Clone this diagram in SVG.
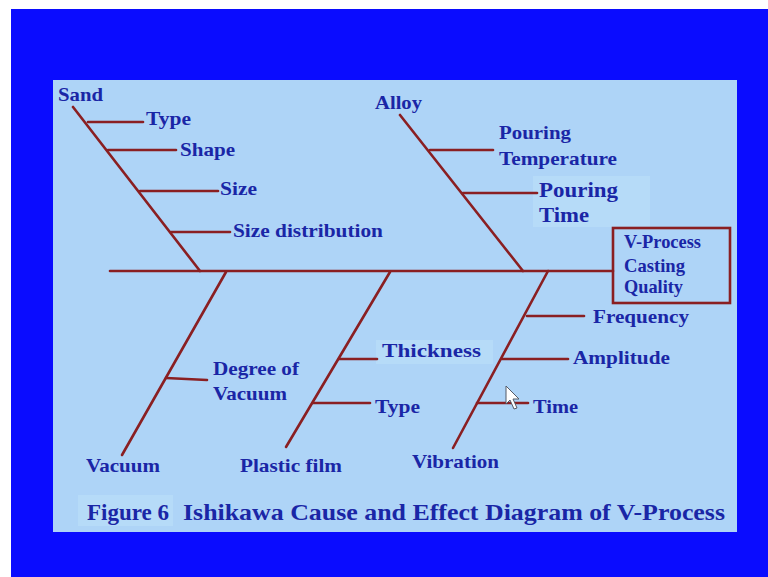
<svg xmlns="http://www.w3.org/2000/svg" width="768" height="577" viewBox="0 0 768 577">
<style>
.t{font-family:"Liberation Serif","Times New Roman",serif;font-weight:bold;font-size:19px;fill:#1a26a6}
.big{font-size:20px}
.cap{font-size:24px}
.bone{stroke:#8a1f22;stroke-width:2.6;fill:none;stroke-linecap:round}
</style>
<rect x="0" y="0" width="768" height="577" fill="#ffffff"/>
<rect x="11" y="9" width="757" height="568" fill="#0a0cff"/>
<rect x="53" y="80" width="684" height="452" fill="#aed4f7"/>
<rect x="533" y="176" width="117" height="51" fill="#b6dbf8"/>
<rect x="376" y="340" width="117" height="24" fill="#b6dbf8"/>
<rect x="78" y="495" width="95" height="31" fill="#b6dbf8"/>

<g id="connectors">
  <line class="bone" x1="110" y1="271" x2="613" y2="271"/>
  <line class="bone" x1="73" y1="107" x2="200" y2="271"/>
  <line class="bone" x1="88" y1="122" x2="143" y2="122"/>
  <line class="bone" x1="108" y1="150" x2="176" y2="150"/>
  <line class="bone" x1="140" y1="191" x2="218" y2="191"/>
  <line class="bone" x1="171" y1="232" x2="230" y2="232"/>
  <line class="bone" x1="400" y1="115" x2="523" y2="271"/>
  <line class="bone" x1="430" y1="150" x2="493" y2="150"/>
  <line class="bone" x1="463" y1="193" x2="537" y2="193"/>
  <line class="bone" x1="226" y1="272" x2="122" y2="455"/>
  <line class="bone" x1="166" y1="378" x2="207" y2="380"/>
  <line class="bone" x1="390" y1="272" x2="286" y2="447"/>
  <line class="bone" x1="339" y1="359" x2="377" y2="359"/>
  <line class="bone" x1="313" y1="403" x2="370" y2="403"/>
  <line class="bone" x1="548" y1="271" x2="453" y2="448"/>
  <line class="bone" x1="527" y1="316" x2="584" y2="316"/>
  <line class="bone" x1="502" y1="359" x2="568" y2="359"/>
  <line class="bone" x1="477" y1="403" x2="528" y2="403"/>
</g>

<g id="effect">
  <rect x="613" y="228" width="117" height="75" fill="none" stroke="#8a1f22" stroke-width="2.6"/>
  <text class="t" x="624" y="248" textLength="77" lengthAdjust="spacingAndGlyphs">V-Process</text>
  <text class="t" x="624" y="272" textLength="61" lengthAdjust="spacingAndGlyphs">Casting</text>
  <text class="t" x="624" y="293" textLength="59" lengthAdjust="spacingAndGlyphs">Quality</text>
</g>

<g id="sand">
  <text class="t" x="58" y="101" textLength="45" lengthAdjust="spacingAndGlyphs">Sand</text>
  <text class="t" x="146" y="125" textLength="45" lengthAdjust="spacingAndGlyphs">Type</text>
  <text class="t" x="180" y="156" textLength="55" lengthAdjust="spacingAndGlyphs">Shape</text>
  <text class="t" x="220" y="195" textLength="37" lengthAdjust="spacingAndGlyphs">Size</text>
  <text class="t" x="233" y="237" textLength="150" lengthAdjust="spacingAndGlyphs">Size distribution</text>
</g>

<g id="alloy">
  <text class="t" x="375" y="109" textLength="47" lengthAdjust="spacingAndGlyphs">Alloy</text>
  <text class="t" x="499" y="139" textLength="72" lengthAdjust="spacingAndGlyphs">Pouring</text>
  <text class="t" x="499" y="165" textLength="118" lengthAdjust="spacingAndGlyphs">Temperature</text>
  <text class="t big" x="539" y="197" textLength="79" lengthAdjust="spacingAndGlyphs">Pouring</text>
  <text class="t big" x="539" y="222" textLength="50" lengthAdjust="spacingAndGlyphs">Time</text>
</g>

<g id="vacuum">
  <text class="t" x="86" y="472" textLength="74" lengthAdjust="spacingAndGlyphs">Vacuum</text>
  <text class="t" x="213" y="375" textLength="86" lengthAdjust="spacingAndGlyphs">Degree of</text>
  <text class="t" x="213" y="400" textLength="74" lengthAdjust="spacingAndGlyphs">Vacuum</text>
</g>

<g id="plastic-film">
  <text class="t" x="240" y="472" textLength="102" lengthAdjust="spacingAndGlyphs">Plastic film</text>
  <text class="t" x="382" y="357" textLength="99" lengthAdjust="spacingAndGlyphs">Thickness</text>
  <text class="t" x="375" y="413" textLength="45" lengthAdjust="spacingAndGlyphs">Type</text>
</g>

<g id="vibration">
  <text class="t" x="412" y="468" textLength="87" lengthAdjust="spacingAndGlyphs">Vibration</text>
  <text class="t" x="593" y="323" textLength="96" lengthAdjust="spacingAndGlyphs">Frequency</text>
  <text class="t" x="573" y="364" textLength="97" lengthAdjust="spacingAndGlyphs">Amplitude</text>
  <text class="t" x="533" y="413" textLength="45" lengthAdjust="spacingAndGlyphs">Time</text>
</g>

<g id="caption">
  <text class="t cap" x="87" y="520" textLength="82" lengthAdjust="spacingAndGlyphs">Figure 6</text>
  <text class="t cap" x="183" y="520" textLength="542" lengthAdjust="spacingAndGlyphs">Ishikawa Cause and Effect Diagram of V-Process</text>
</g>

<path d="M506,386 L506,404 L510,400 L514,409 L517,408 L513,399 L519,399 Z" fill="#ffffff" stroke="#555a66" stroke-width="1"/>
</svg>
